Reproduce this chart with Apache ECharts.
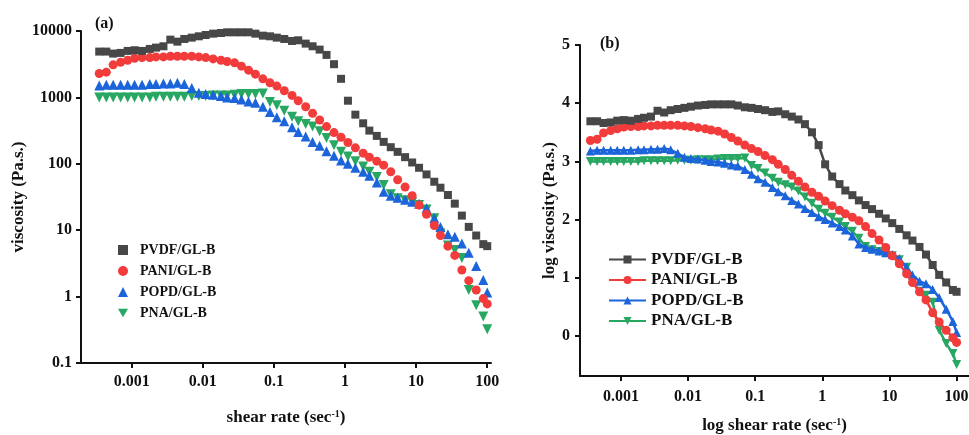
<!DOCTYPE html>
<html>
<head>
<meta charset="utf-8">
<script src="https://cdn.jsdelivr.net/npm/echarts@6/dist/echarts.min.js"></script>
<style>
html, body { margin: 0; padding: 0; background: #fff; }
#chart { width: 969px; height: 435px; }
</style>
</head>
<body>
<div id="chart"></div>
<script>
// Shear rate (sec^-1) of each measurement point
const shearRate = [
  0.00035, 0.00044, 0.00055, 0.0007, 0.00088, 0.0011, 0.0014, 0.0018, 0.0022, 0.0028,
  0.0035, 0.0044, 0.0055, 0.007, 0.0088, 0.011, 0.014, 0.018, 0.022, 0.028,
  0.035, 0.044, 0.055, 0.07, 0.088, 0.11, 0.14, 0.18, 0.22, 0.28,
  0.35, 0.44, 0.55, 0.7, 0.88, 1.1, 1.4, 1.8, 2.2, 2.8,
  3.5, 4.4, 5.5, 7, 8.8, 11, 14, 18, 22, 28,
  35, 44, 55, 70, 88, 100
];

const seriesNames = ['PVDF/GL-B', 'PANI/GL-B', 'POPD/GL-B', 'PNA/GL-B'];

// log10 of viscosity (Pa.s.) for each sample
const logViscPVDF = [
  3.69, 3.69, 3.66, 3.67, 3.70, 3.71, 3.70, 3.73, 3.75, 3.77,
  3.87, 3.84, 3.88, 3.90, 3.92, 3.94, 3.96, 3.97, 3.98, 3.98,
  3.98, 3.98, 3.96, 3.93, 3.92, 3.90, 3.88, 3.85, 3.86, 3.81,
  3.77, 3.72, 3.64, 3.50, 3.28, 2.95, 2.74, 2.61, 2.50, 2.42,
  2.33, 2.25, 2.18, 2.10, 2.02, 1.94, 1.84, 1.73, 1.64, 1.53,
  1.40, 1.22, 1.05, 0.92, 0.79, 0.76
];
const logViscPANI = [
  3.36, 3.38, 3.49, 3.53, 3.56, 3.59, 3.60, 3.60, 3.61, 3.61,
  3.62, 3.62, 3.62, 3.62, 3.61, 3.60, 3.58, 3.56, 3.54, 3.52,
  3.47, 3.41, 3.35, 3.28, 3.22, 3.17, 3.10, 3.03, 2.95, 2.86,
  2.76, 2.66, 2.56, 2.47, 2.40, 2.32, 2.24, 2.16, 2.10, 2.04,
  1.98, 1.88, 1.76, 1.65, 1.52, 1.38, 1.24, 1.07, 0.92, 0.76,
  0.62, 0.40, 0.24, 0.10, -0.03, -0.11
];
const logViscPOPD = [
  3.18, 3.19, 3.19, 3.19, 3.19, 3.19, 3.19, 3.20, 3.20, 3.21,
  3.21, 3.22, 3.20, 3.14, 3.07, 3.05, 3.04, 3.02, 3.00, 2.99,
  2.97, 2.94, 2.92, 2.86, 2.78, 2.70, 2.64, 2.55, 2.48, 2.41,
  2.33, 2.27, 2.19, 2.12, 2.05, 2.00, 1.94, 1.88, 1.82, 1.72,
  1.58, 1.52, 1.49, 1.46, 1.43, 1.40, 1.33, 1.18, 1.05, 0.94,
  0.90, 0.80, 0.66, 0.46, 0.25, 0.06
];
const logViscPNA = [
  3.00, 3.00, 3.00, 3.00, 3.00, 3.00, 3.00, 3.00, 3.01, 3.01,
  3.01, 3.01, 3.01, 3.02, 3.02, 3.02, 3.03, 3.03, 3.03, 3.04,
  3.05, 3.05, 3.05, 3.06, 2.93, 2.88, 2.80, 2.71, 2.64, 2.60,
  2.56, 2.49, 2.39, 2.28, 2.18, 2.11, 2.04, 1.96, 1.88, 1.80,
  1.68, 1.54, 1.48, 1.45, 1.42, 1.38, 1.31, 1.18, 0.95, 0.77,
  0.70, 0.58, 0.10, -0.13, -0.30, -0.49
];

// Tick labels
const xTickLabels = ['0.001', '0.01', '0.1', '1', '10', '100'];       // 10^-3 .. 10^2
const yTickLabelsA = ['0.1', '1', '10', '100', '1000', '10000'];      // 10^-1 .. 10^4
const yTickLabelsB = ['0', '1', '2', '3', '4', '5'];

const logSeries = [logViscPVDF, logViscPANI, logViscPOPD, logViscPNA];
const colors = ['#474747', '#f23b3b', '#1c64d9', '#27a762'];
const symbols = ['rect', 'circle', 'triangle', 'path://M0,0L10,0L5,8.66Z'];
const symbolSizesA = [8, 9, 10, 10];
const symbolSizesB = [8, 9, 9, 9];

const FONT = 'Liberation Serif';
const INK = '#111';

function powerLabel(labels, firstExp) {
  return function (v) {
    const e = Math.log10(v);
    const r = Math.round(e);
    if (Math.abs(e - r) > 1e-3) return '';
    const s = labels[r - firstExp];
    return s === undefined ? '' : s;
  };
}
function linearLabel(labels) {
  return function (v) {
    const r = Math.round(v);
    if (Math.abs(v - r) > 1e-6) return '';
    const s = labels[r];
    return s === undefined ? '' : s;
  };
}

function axisBase(labelMargin, formatter) {
  return {
    axisLine: { show: true, onZero: false, lineStyle: { color: INK, width: 2 } },
    axisTick: { show: true, inside: false, length: 5, lineStyle: { color: INK, width: 2 } },
    splitLine: { show: false },
    minorTick: { show: false },
    axisLabel: {
      fontFamily: FONT, fontWeight: 'bold', fontSize: 16, color: INK,
      margin: labelMargin, formatter: formatter,
      showMinLabel: false, showMaxLabel: false
    },
    nameTextStyle: {
      fontFamily: FONT, fontWeight: 'bold', fontSize: 17, color: INK,
      rich: {
        sup: { fontFamily: FONT, fontWeight: 'bold', fontSize: 10, color: INK, verticalAlign: 'top', padding: [0, 0, 8, 0] }
      }
    }
  };
}

const series = [];
seriesNames.forEach(function (name, i) {
  series.push({
    type: 'scatter',
    name: name,
    xAxisIndex: 0, yAxisIndex: 0,
    symbol: symbols[i],
    symbolSize: symbolSizesA[i],
    itemStyle: { color: colors[i], opacity: 1 },
    data: shearRate.map(function (x, k) { return [x, Math.pow(10, logSeries[i][k])]; }),
    z: 10 - i
  });
});
seriesNames.forEach(function (name, i) {
  series.push({
    type: 'line',
    name: 'b:' + name,
    xAxisIndex: 1, yAxisIndex: 1,
    symbol: symbols[i],
    symbolSize: symbolSizesB[i],
    showAllSymbol: true,
    lineStyle: { color: colors[i], width: 2.5 },
    itemStyle: { color: colors[i] },
    data: shearRate.map(function (x, k) { return [x, logSeries[i][k]]; }),
    z: 10 - i
  });
});

const option = {
  animation: false,
  backgroundColor: '#fff',
  title: [
    { text: '(a)', left: 90, top: 11, textStyle: { fontFamily: FONT, fontWeight: 'bold', fontSize: 16, color: INK } },
    { text: '(b)', left: 595, top: 31, textStyle: { fontFamily: FONT, fontWeight: 'bold', fontSize: 16, color: INK } }
  ],
  legend: [
    {
      data: seriesNames,
      orient: 'vertical',
      left: 113, top: 238,
      itemWidth: 10, itemHeight: 10, itemGap: 7,
      textStyle: { fontFamily: FONT, fontWeight: 'bold', fontSize: 14, color: INK, padding: [0, 0, 0, 7] },
      selectedMode: false
    },
    {
      data: seriesNames.map(function (n) { return 'b:' + n; }),
      orient: 'vertical',
      left: 603, top: 246,
      itemWidth: 37, itemHeight: 10, itemGap: 3.5,
      formatter: function (n) { return n.slice(2); },
      textStyle: { fontFamily: FONT, fontWeight: 'bold', fontSize: 17, color: INK },
      selectedMode: false
    }
  ],
  grid: [
    { left: 81, top: 31, width: 410, height: 332, outerBoundsMode: 'none', containLabel: false },
    { left: 580, top: 45, width: 389, height: 331, outerBoundsMode: 'none', containLabel: false }
  ],
  xAxis: [
    Object.assign(axisBase(11, powerLabel(xTickLabels, -3)), {
      type: 'log', gridIndex: 0, logBase: 10,
      min: 0.000194, max: 113,
      name: 'shear rate (sec{sup|-1})', nameLocation: 'middle', nameGap: 46
    }),
    Object.assign(axisBase(13, powerLabel(xTickLabels, -3)), {
      type: 'log', gridIndex: 1, logBase: 10,
      min: 0.000245, max: 153,
      name: 'log shear rate (sec{sup|-1})', nameLocation: 'middle', nameGap: 41
    })
  ],
  yAxis: [
    Object.assign(axisBase(9, powerLabel(yTickLabelsA, -1)), {
      type: 'log', gridIndex: 0, logBase: 10,
      min: 0.1, max: 10000,
      name: 'viscosity (Pa.s.)', nameLocation: 'middle', nameGap: 54
    }),
    Object.assign(axisBase(10, linearLabel(yTickLabelsB)), {
      type: 'value', gridIndex: 1,
      min: -0.687, max: 5,
      name: 'log viscosity (Pa.s.)', nameLocation: 'middle', nameGap: 22
    })
  ],
  series: series
};

// the end labels of the y axes fall on whole ticks, keep them visible
option.yAxis[0].axisLabel.showMaxLabel = true;
option.yAxis[0].axisLabel.showMinLabel = true;
option.yAxis[1].axisLabel.showMaxLabel = true;

const chart = echarts.init(document.getElementById('chart'), null, { renderer: 'canvas' });
chart.setOption(option);
</script>
</body>
</html>
